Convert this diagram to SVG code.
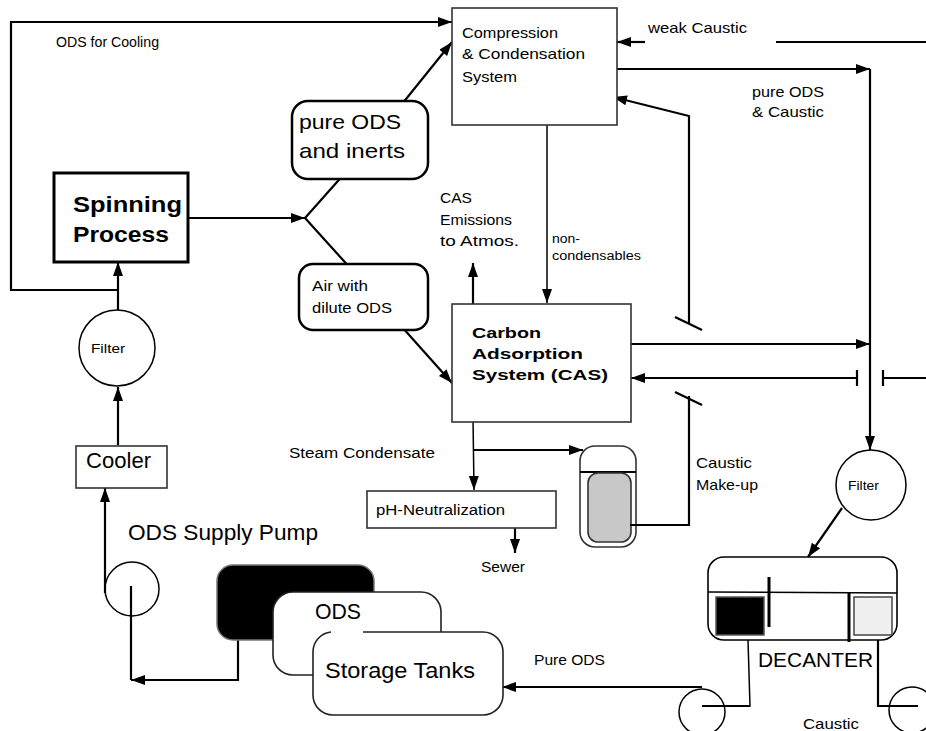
<svg xmlns="http://www.w3.org/2000/svg" width="926" height="731" viewBox="0 0 926 731">
<defs>
<marker id="ah" markerUnits="userSpaceOnUse" markerWidth="16" markerHeight="12" refX="14" refY="5" orient="auto">
<path d="M0,0 L14,5 L0,10 z" fill="#000"/>
</marker>
<style>
.c{fill:none;stroke:#000;stroke-width:2.2}
.t{fill:none;stroke:#000;stroke-width:1.5}
.a{marker-end:url(#ah)}
.box{fill:#fff;stroke:#333;stroke-width:1.6}
.rb{fill:#fff;stroke:#000;stroke-width:2.5}
text{font-family:"Liberation Sans",Arial,sans-serif;fill:#000}
.s15{font-size:15px}
.s14{font-size:14px}
.s13{font-size:13px}
.s12{font-size:12px}
.s22{font-size:22px}
.b{font-weight:bold}
</style>
</defs>
<rect width="926" height="731" fill="#fff"/>

<g id="connectors">
<path class="c a" d="M118,310 V262"/>
<path class="c a" d="M118,290 H11 V22 H452"/>
<path class="c a" d="M185,218 H305"/>
<path class="c" d="M345,173 L305,218 L352,270"/>
<path class="c a" d="M402,104 L452,42"/>
<path class="c a" d="M402,327 L452,383"/>
<path class="c a" d="M645,42 H617"/>
<path class="c" d="M776,42 H926"/>
<path class="c a" d="M613,69 H870"/>
<path class="c a" d="M870,69 V450"/>
<path class="c a" d="M689,323 V116 L613,97"/>
<path class="c" d="M675,317 L702,330"/>
<path class="t a" d="M547,122 V303"/>
<path class="c a" d="M473,304 V263"/>
<path class="c a" d="M627,344 H870"/>
<path class="c a" d="M857,378 H631"/>
<path class="c" d="M857,370 V386 M883,370 V386 M883,378 H926"/>
<path class="c" d="M675,392 L702,405"/>
<path class="c" d="M689,396 V525 H630"/>
<path class="t a" d="M473,418 L474,490"/>
<path class="c a" d="M473,450 H583"/>
<path class="c a" d="M515,525 V553"/>
<path class="c a" d="M842,508 L808,557"/>
<path class="t" d="M748,640 L750,706 H702"/>
<path class="c a" d="M702,687 H502"/>
<path class="c" d="M878,640 V706 H918"/>
<path class="c a" d="M238,639 V680 H131"/>
<path class="c" d="M131,680 V586"/>
<path class="c a" d="M105,593 V488"/>
<path class="c a" d="M118,445 V387"/>
</g>

<text class="s14" x="56" y="47" textLength="103" lengthAdjust="spacingAndGlyphs">ODS for Cooling</text>

<g id="compression">
<rect class="box" x="452" y="8" width="165" height="117"/>
<text class="s15" x="462" y="38" textLength="96" lengthAdjust="spacingAndGlyphs">Compression</text>
<text class="s15" x="462" y="59" textLength="123" lengthAdjust="spacingAndGlyphs">&amp; Condensation</text>
<text class="s15" x="462" y="82" textLength="55" lengthAdjust="spacingAndGlyphs">System</text>
</g>

<text class="s15" x="648" y="33" textLength="99" lengthAdjust="spacingAndGlyphs">weak Caustic</text>
<text class="s15" x="752" y="97" textLength="72" lengthAdjust="spacingAndGlyphs">pure ODS</text>
<text class="s15" x="752" y="117" textLength="72" lengthAdjust="spacingAndGlyphs">&amp; Caustic</text>

<g id="spinning">
<rect x="54" y="173" width="134" height="89" fill="#fff" stroke="#000" stroke-width="3"/>
<text class="s22 b" x="73" y="212" textLength="109" lengthAdjust="spacingAndGlyphs">Spinning</text>
<text class="s22 b" x="73" y="242" textLength="96" lengthAdjust="spacingAndGlyphs">Process</text>
</g>

<g id="pure-ods">
<rect class="rb" x="292" y="101" width="136" height="78" rx="16"/>
<text style="font-size:21px" x="299" y="129" textLength="102" lengthAdjust="spacingAndGlyphs">pure ODS</text>
<text style="font-size:21px" x="299" y="158" textLength="106" lengthAdjust="spacingAndGlyphs">and inerts</text>
</g>

<g id="air-dilute">
<rect class="rb" x="299" y="264" width="129" height="66" rx="14"/>
<text class="s14" x="312" y="291" textLength="56" lengthAdjust="spacingAndGlyphs">Air with</text>
<text class="s14" x="312" y="313" textLength="80" lengthAdjust="spacingAndGlyphs">dilute ODS</text>
</g>

<text class="s15" x="440" y="203" textLength="32" lengthAdjust="spacingAndGlyphs">CAS</text>
<text class="s15" x="440" y="225" textLength="72" lengthAdjust="spacingAndGlyphs">Emissions</text>
<text class="s15" x="440" y="246" textLength="79" lengthAdjust="spacingAndGlyphs">to Atmos.</text>
<text class="s12" x="552" y="243" textLength="28" lengthAdjust="spacingAndGlyphs">non-</text>
<text class="s12" x="552" y="260" textLength="89" lengthAdjust="spacingAndGlyphs">condensables</text>

<g id="cas">
<rect class="box" x="452" y="304" width="179" height="118"/>
<text class="s15 b" x="472" y="338" textLength="69" lengthAdjust="spacingAndGlyphs">Carbon</text>
<text class="s15 b" x="472" y="359" textLength="111" lengthAdjust="spacingAndGlyphs">Adsorption</text>
<text class="s15 b" x="472" y="380" textLength="136" lengthAdjust="spacingAndGlyphs">System (CAS)</text>
</g>

<text class="s15" x="696" y="468" textLength="56" lengthAdjust="spacingAndGlyphs">Caustic</text>
<text class="s15" x="696" y="490" textLength="62" lengthAdjust="spacingAndGlyphs">Make-up</text>

<g id="filter-left">
<circle cx="117" cy="348" r="38" fill="#fff" stroke="#000" stroke-width="1.5"/>
<text class="s13" x="91" y="353" textLength="34" lengthAdjust="spacingAndGlyphs">Filter</text>
</g>

<g id="cooler">
<rect class="box" x="76" y="446" width="91" height="42"/>
<text class="s22" x="86" y="468" textLength="65" lengthAdjust="spacingAndGlyphs">Cooler</text>
</g>

<text class="s22" x="128" y="540" textLength="190" lengthAdjust="spacingAndGlyphs">ODS Supply Pump</text>

<g id="supply-pump">
<circle cx="132" cy="589" r="27" fill="none" stroke="#000" stroke-width="1.5"/>
</g>

<text class="s14" x="289" y="458" textLength="146" lengthAdjust="spacingAndGlyphs">Steam Condensate</text>

<g id="ph-neutralization">
<rect class="box" x="367" y="491" width="189" height="37"/>
<text class="s14" x="376" y="515" textLength="129" lengthAdjust="spacingAndGlyphs">pH-Neutralization</text>
</g>
<text class="s15" x="481" y="572" textLength="44" lengthAdjust="spacingAndGlyphs">Sewer</text>

<g id="caustic-tank">
<rect x="580" y="446" width="56" height="101" rx="15" fill="#fff" stroke="#333" stroke-width="1.6"/>
<line x1="580" y1="472" x2="636" y2="472" stroke="#000" stroke-width="2"/>
<rect x="588" y="473" width="43" height="69" rx="10" fill="#c8c8c8" stroke="#333" stroke-width="1.6"/>
</g>
<path class="c" d="M689,525 H630"/>

<g id="storage-tanks">
<rect x="217" y="565" width="157" height="75" rx="16" fill="#000" stroke="#777" stroke-width="1.5"/>
<rect x="273" y="592" width="168" height="83" rx="20" fill="#fff" stroke="#222" stroke-width="1.6"/>
<text class="s22" x="315" y="619" textLength="46" lengthAdjust="spacingAndGlyphs">ODS</text>
<path d="M363,632 H483 A20,20 0 0 1 503,652 V695 A20,20 0 0 1 483,715 H333 A20,20 0 0 1 313,695 V652 A20,20 0 0 1 331,632" fill="#fff" stroke="#222" stroke-width="1.6"/>
<text class="s22" x="325" y="678" textLength="150" lengthAdjust="spacingAndGlyphs">Storage Tanks</text>
</g>

<text class="s15" x="534" y="665" textLength="71" lengthAdjust="spacingAndGlyphs">Pure ODS</text>

<g id="filter-right">
<circle cx="871" cy="485" r="35" fill="#fff" stroke="#000" stroke-width="1.5"/>
<text class="s12" x="848" y="490" textLength="31" lengthAdjust="spacingAndGlyphs">Filter</text>
</g>

<g id="decanter">
<rect x="708" y="557" width="189" height="83" rx="16" fill="#fff" stroke="#000" stroke-width="1.6"/>
<line x1="708" y1="592" x2="897" y2="593" stroke="#000" stroke-width="1.4"/>
<rect x="716" y="597" width="48" height="38" fill="#000" stroke="#555" stroke-width="1.5"/>
<rect x="854" y="597" width="38" height="38" fill="#f0f0f0" stroke="#444" stroke-width="1.5"/>
<line x1="769" y1="577" x2="769" y2="627" stroke="#000" stroke-width="3"/>
<line x1="849" y1="592" x2="849" y2="642" stroke="#000" stroke-width="3"/>
<text style="font-size:20px" x="758" y="667" textLength="115" lengthAdjust="spacingAndGlyphs">DECANTER</text>
</g>

<g id="pump-ods">
<circle cx="702" cy="712" r="23" fill="none" stroke="#000" stroke-width="1.5"/>
</g>
<g id="pump-caustic">
<circle cx="912" cy="710" r="23" fill="none" stroke="#000" stroke-width="1.5"/>
</g>
<path class="c" d="M878,706 H918 M750,706 H702"/>
<text class="s15" x="803" y="729" textLength="56" lengthAdjust="spacingAndGlyphs">Caustic</text>
</svg>
